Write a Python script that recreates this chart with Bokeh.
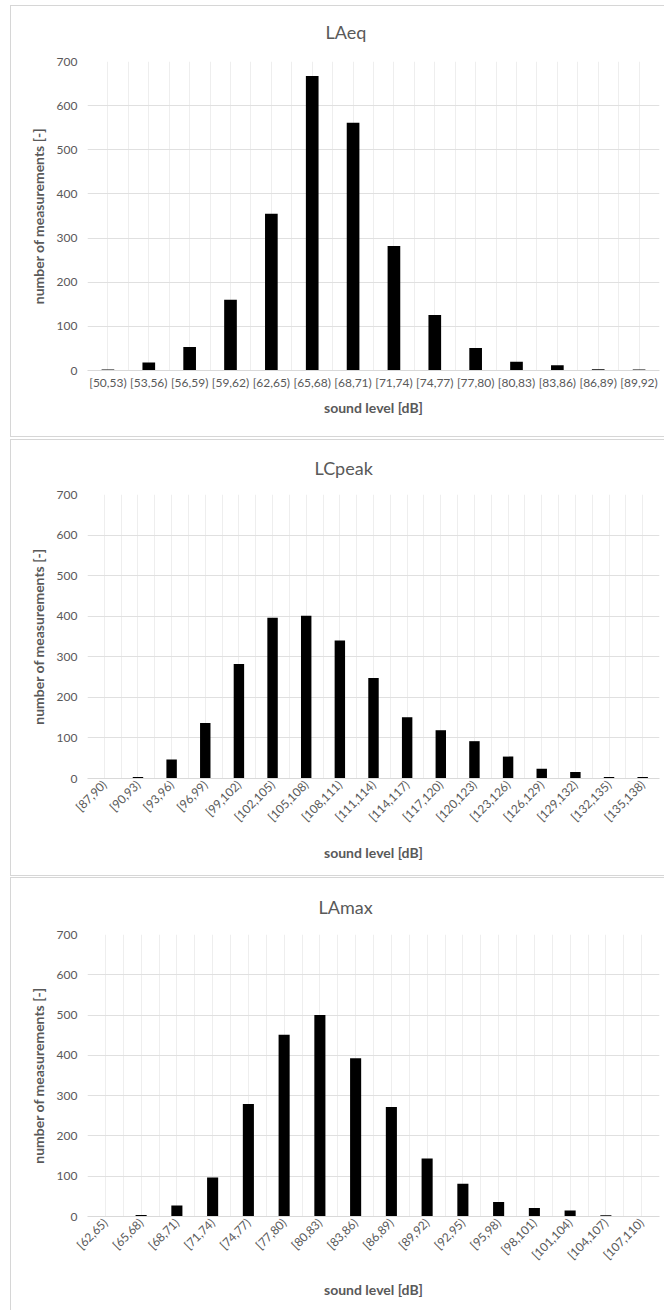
import math
from bokeh.plotting import figure
from bokeh.models import Range1d, FixedTicker, Title
from bokeh.layouts import column
from bokeh.embed import file_html
from bokeh.resources import INLINE

# ---------------- data ----------------
laeq_bins = ["[50,53)", "[53,56)", "[56,59)", "[59,62)", "[62,65)", "[65,68)", "[68,71)",
             "[71,74)", "[74,77)", "[77,80)", "[80,83)", "[83,86)", "[86,89)", "[89,92)"]
laeq_counts = [2, 18, 53, 160, 355, 667, 561, 282, 126, 51, 20, 12, 3, 2]

lcpeak_bins = ["[87,90)", "[90,93)", "[93,96)", "[96,99)", "[99,102)", "[102,105)", "[105,108)",
               "[108,111)", "[111,114)", "[114,117)", "[117,120)", "[120,123)", "[123,126)",
               "[126,129)", "[129,132)", "[132,135)", "[135,138)"]
lcpeak_counts = [0, 4, 47, 137, 282, 396, 401, 340, 248, 151, 119, 92, 54, 24, 16, 4, 4]

lamax_bins = ["[62,65)", "[65,68)", "[68,71)", "[71,74)", "[74,77)", "[77,80)", "[80,83)",
              "[83,86)", "[86,89)", "[89,92)", "[92,95)", "[95,98)", "[98,101)", "[101,104)",
              "[104,107)", "[107,110)"]
lamax_counts = [0, 4, 27, 97, 279, 451, 500, 393, 272, 144, 81, 36, 21, 15, 3, 0]

y_ticks = [0, 100, 200, 300, 400, 500, 600, 700]
x_title = "sound level [dB]"
y_title = "number of measurements [-]"

FONT = "Lato"
TXT = "#595959"
BORDER = "#d6d6d6"


def border_styles(height, top_y, bottom_y):
    # light-grey chart-area border drawn as CSS background lines
    imgs = [f"linear-gradient({BORDER},{BORDER})"] * 3
    pos = [f"10px {top_y}px", f"10px {top_y}px", f"10px {bottom_y}px"]
    size = [f"1px {bottom_y - top_y + 1}px", "100% 1px", "100% 1px"]
    return {
        "background-image": ", ".join(imgs),
        "background-position": ", ".join(pos),
        "background-size": ", ".join(size),
        "background-repeat": "no-repeat",
        "background-color": "white",
    }


def panel(title, bins, counts, height, top, bottom, left, right, rotate,
          title_offset, title_standoff, label_standoff, top_y, bottom_y):
    n = len(bins)
    idx = list(range(n))
    p = figure(width=664, height=height,
               x_range=Range1d(-0.5, n - 0.5), y_range=Range1d(0, 700),
               output_backend="svg", toolbar_location=None,
               min_border_left=left, min_border_right=right,
               min_border_top=top, min_border_bottom=bottom,
               background_fill_color="white", border_fill_color="white",
               border_fill_alpha=0, outline_line_color=None,
               styles=border_styles(height, top_y, bottom_y))
    p.vbar(x=idx, top=counts, width=0.31, fill_color="black", line_color=None)

    p.add_layout(Title(text=title, align="left", offset=title_offset,
                       standoff=title_standoff,
                       text_font=FONT, text_font_size="18px", text_font_style="normal",
                       text_color=TXT), "above")

    xt = FixedTicker(ticks=idx, minor_ticks=[i - 0.5 for i in range(n + 1)])
    xa = p.xaxis[0]
    xa.ticker = xt
    xa.major_label_overrides = {i: b for i, b in zip(idx, bins)}
    xa.axis_line_color = "#d9d9d9"
    xa.major_tick_line_color = None
    xa.minor_tick_line_color = None
    xa.major_tick_out = 0
    xa.major_tick_in = 0
    xa.minor_tick_out = 0
    xa.minor_tick_in = 0
    xa.major_label_text_font = FONT
    xa.major_label_text_font_size = "12px"
    xa.major_label_text_color = TXT
    xa.major_label_standoff = 4
    xa.axis_label = x_title
    xa.axis_label_text_font = FONT
    xa.axis_label_text_font_size = "14px"
    xa.axis_label_text_font_style = "bold"
    xa.axis_label_text_color = TXT
    xa.axis_label_standoff = label_standoff
    if rotate:
        xa.major_label_orientation = math.pi / 4

    p.xgrid.ticker = xt
    p.xgrid.grid_line_color = "#eeeeee"
    p.xgrid.minor_grid_line_color = "#eeeeee"

    yt = FixedTicker(ticks=y_ticks)
    ya = p.yaxis[0]
    ya.ticker = yt
    ya.axis_line_color = None
    ya.major_tick_line_color = None
    ya.minor_tick_line_color = None
    ya.major_tick_out = 0
    ya.major_tick_in = 0
    ya.minor_tick_out = 0
    ya.minor_tick_in = 0
    ya.major_label_text_font = FONT
    ya.major_label_text_font_size = "12px"
    ya.major_label_text_color = TXT
    ya.major_label_standoff = 10
    ya.axis_label = y_title
    ya.axis_label_text_font = FONT
    ya.axis_label_text_font_size = "14px"
    ya.axis_label_text_font_style = "bold"
    ya.axis_label_text_color = TXT
    ya.axis_label_standoff = 7
    p.ygrid.ticker = yt
    p.ygrid.grid_line_color = "#e0e0e0"
    return p


p1 = panel("LAeq", laeq_bins, laeq_counts, 438, 61, 68, 85, 4, False, 238, 37, 6, 5, 436)
p2 = panel("LCpeak", lcpeak_bins, lcpeak_counts, 438, 56, 98, 87, 5, True, 227, 32, 12, 1, 437)
p3 = panel("LAmax", lamax_bins, lamax_counts, 434, 58, 94, 85, 4, True, 231, 34, 11, 1, 440)

layout = column(p1, p2, p3, spacing=0)
open("out.html", "w").write(file_html(layout, INLINE))
